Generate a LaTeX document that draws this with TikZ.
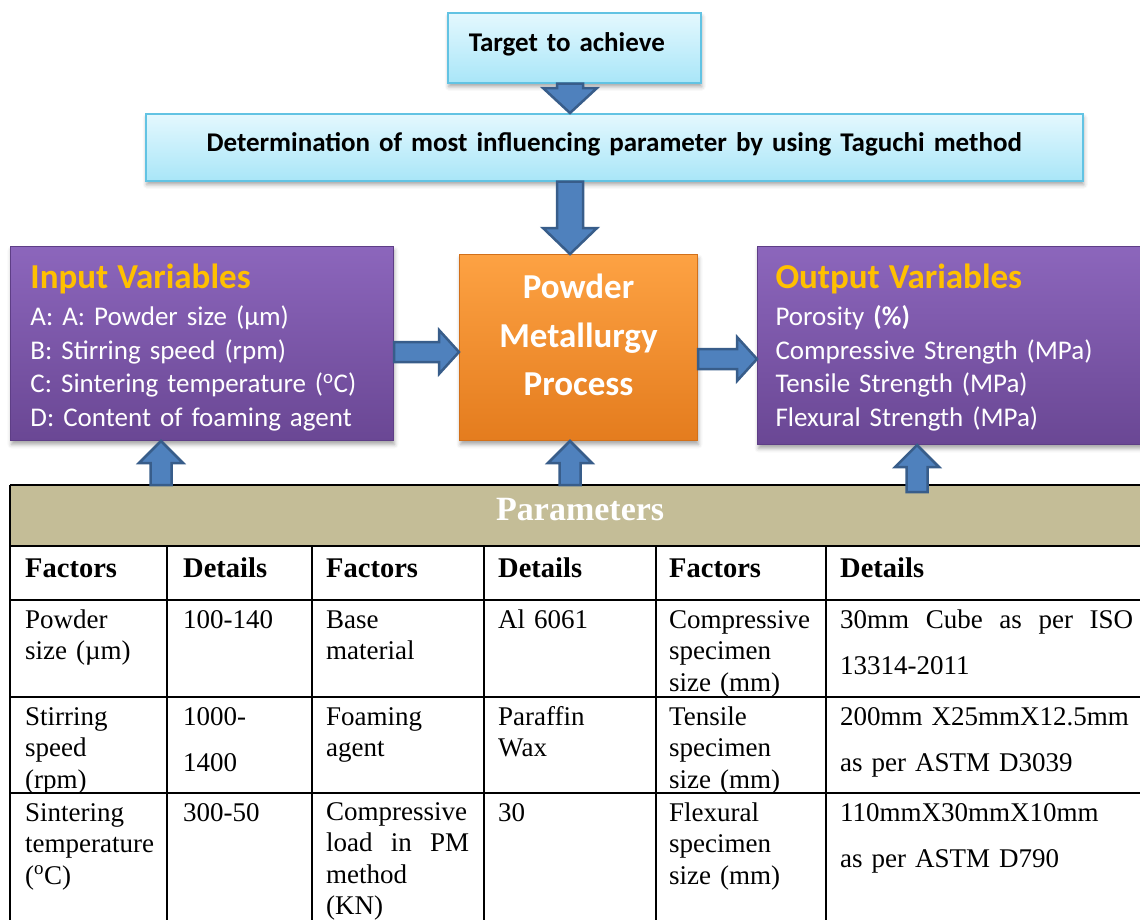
\documentclass[tikz,border=0pt]{standalone}
\usepackage{fontspec}
\setmainfont{Liberation Serif}
\newfontfamily\calibri{Carlito}
\usepackage{tikz}
\usetikzlibrary{calc,shadows.blur}

\definecolor{cytop}{HTML}{E4F8FE}
\definecolor{cybot}{HTML}{A9E6F8}
\definecolor{cybord}{HTML}{62C3E3}
\definecolor{putop}{HTML}{8C66BC}
\definecolor{pubot}{HTML}{6A4794}
\definecolor{pubord}{HTML}{5E3E86}
\definecolor{ortop}{HTML}{FDA243}
\definecolor{orbot}{HTML}{E47C1E}
\definecolor{orbord}{HTML}{D2701A}
\definecolor{arfill}{HTML}{4F81BD}
\definecolor{arbord}{HTML}{385D8A}
\definecolor{ttl}{HTML}{FFC000}
\definecolor{bandcol}{HTML}{C4BD97}

\begin{document}
\begin{tikzpicture}[x=1pt, y=1pt,
  boxshadow/.style={blur shadow={shadow xshift=1pt, shadow yshift=-4pt, shadow blur radius=4pt, shadow opacity=35}},
  cybox/.style={boxshadow, draw=cybord, line width=1.5pt, top color=cytop, bottom color=cybot, inner ysep=0pt, anchor=north west, font=\calibri\bfseries\fontsize{27}{33}\selectfont},
  pubox/.style={boxshadow, draw=pubord, line width=1pt, top color=putop, bottom color=pubot, text=white, inner ysep=0pt, anchor=north west, align=left, font=\calibri\fontsize{27}{33.5}\selectfont},
  orbox/.style={boxshadow, draw=orbord, line width=1pt, top color=ortop, bottom color=orbot, text=white, inner sep=0pt, anchor=north west, align=center, font=\calibri\bfseries\fontsize{35}{48.5}\selectfont},
  fat/.style args={#1/#2/#3}{draw=arbord, fill=arfill, line width=2.5pt, line join=miter,
    to path={let \p1=(\tikztostart), \p2=(\tikztotarget),
      \n1={veclen(\x2-\x1,\y2-\y1)}, \n2={atan2(\y2-\y1,\x2-\x1)} in
      [shift={(\p1)}, rotate=\n2] (0,#1) -- (\n1-#3,#1) -- (\n1-#3,#2) -- (\n1,0)
      -- (\n1-#3,-#2) -- (\n1-#3,-#1) -- (0,-#1) -- cycle}},
  band/.style={fill=bandcol, text=white, inner sep=0pt, anchor=north west, font=\bfseries\fontsize{34}{40}\selectfont},
  tline/.style={line width=2.5pt},
  cell/.style={anchor=base west, inner sep=0pt, text width=#1, align=left, font=\fontsize{27}{31.5}\selectfont},
  head/.style={anchor=base west, inner sep=0pt, font=\bfseries\fontsize{28.5}{31.5}\selectfont},
  wide/.style={font=\fontsize{27}{46.5}\selectfont}]

\useasboundingbox (0,0) rectangle (1140,-919);

% top of the flow
\node[cybox, minimum width=253pt, minimum height=70pt, inner xsep=21pt, text width=211pt, align=left,
  text height=39pt, text depth=31pt] (target) at (447,-12) {Target to achieve};
\node[cybox, minimum width=937pt, minimum height=67pt, inner xsep=0pt, text width=937pt, align=center,
  text height=38pt, text depth=29pt] (taguchi) at (145,-113)
  {Determination of most influencing parameter by using Taguchi method};

% the three boxes
\node[pubox, minimum width=383pt, minimum height=194pt, inner xsep=20pt, text width=343pt,
  text height=42pt, text depth=152pt] (input) at (10,-246)
  {{\bfseries\fontsize{35}{37}\selectfont\color{ttl}Input Variables}\\[3.5pt]
   A: A: Powder size (µm)\\
   B: Stirring speed (rpm)\\
   C: Sintering temperature (\textsuperscript{o}C)\\
   D: Content of foaming agent};
\node[orbox, minimum width=238pt, minimum height=186pt, text width=238pt,
  text height=44pt, text depth=142pt] (pm) at (459,-254)
  {Powder\\ Metallurgy\\ Process};
\node[pubox, minimum width=400pt, minimum height=198pt, inner xsep=18pt, text width=364pt,
  text height=42pt, text depth=156pt] (output) at (757,-246)
  {{\bfseries\fontsize{35}{37}\selectfont\color{ttl}Output Variables}\\[3.5pt]
   Porosity \textbf{(\%)}\\
   Compressive Strength (MPa)\\
   Tensile Strength (MPa)\\
   Flexural Strength (MPa)};

% table
\node[band, minimum width=1140pt, text width=1140pt, align=center, text height=35pt, text depth=26pt]
  (params) at (10,-485) {Parameters};
\foreach \y in {485,546,600,697,793}
  \draw[tline] (10,-\y) -- (1150,-\y);
\draw[tline] (10,-485) -- (10,-930);
\foreach \x in {167,312,484,656,826}
  \draw[tline] (\x,-546) -- (\x,-930);

\foreach \x/\t [count=\i] in {25/Factors,183/Details,326/Factors,498/Details,669/Factors,840/Details}
  \node[head] (h\i) at (\x,-577) {\t};

\node[cell=140pt] (r1c1) at (25,-628) {Powder\\ size (µm)};
\node[cell=125pt] (r1c2) at (183,-628) {100-140};
\node[cell=143pt] (r1c3) at (326,-628) {Base\\ material};
\node[cell=155pt] (r1c4) at (498,-628) {Al 6061};
\node[cell=150pt] (r1c5) at (669,-628) {Compressive\\ specimen\\ size (mm)};
\node[cell=293pt, align=justify, wide] (r1c6) at (840,-628) {30mm Cube as per ISO\linebreak 13314-2011};

\node[cell=140pt] (r2c1) at (25,-725) {Stirring\\ speed\\ (rpm)};
\node[cell=125pt, wide] (r2c2) at (183,-725) {1000-\\ 1400};
\node[cell=143pt] (r2c3) at (326,-725) {Foaming\\ agent};
\node[cell=155pt] (r2c4) at (498,-725) {Paraffin\\ Wax};
\node[cell=150pt] (r2c5) at (669,-725) {Tensile\\ specimen\\ size (mm)};
\node[cell=293pt, wide] (r2c6) at (840,-725) {200mm X25mmX12.5mm\\ as per ASTM D3039};

\node[cell=140pt] (r3c1) at (25,-821) {Sintering\\ temperature\\ (\textsuperscript{o}C)};
\node[cell=125pt] (r3c2) at (183,-821) {300-50};
\node[cell=143pt, align=justify] (r3c3) at (326,-820) {Compressive\\ load in PM\linebreak method\\ (KN)};
\node[cell=155pt] (r3c4) at (498,-821) {30};
\node[cell=150pt] (r3c5) at (669,-821) {Flexural\\ specimen\\ size (mm)};
\node[cell=293pt, wide] (r3c6) at (840,-821) {110mmX30mmX10mm\\ as per ASTM D790};

% block arrows
\coordinate (vx) at (570,0);
\coordinate (hy1) at (0,-352);
\coordinate (hy2) at (0,-359);
\coordinate (u1) at (161,0);
\coordinate (u2) at (570,0);
\coordinate (u3) at (917,0);
\draw[fat=13/27/25] (target.south -| vx) to (taguchi.north -| vx);
\draw[fat=13/27/26] (taguchi.south -| vx) to (pm.north -| vx);
\draw[fat=10/22/20] (input.east |- hy1) to (pm.west |- hy1);
\draw[fat=10/22/20] (pm.east |- hy2) to (output.west |- hy2);
\draw[fat=10.5/22/22] (params.north -| u1) to (input.south -| u1);
\draw[fat=10.5/22/22] (params.north -| u2) to (pm.south -| u2);
\draw[fat=10.5/22/22] ([yshift=-7pt]params.north -| u3) to (output.south -| u3);
\end{tikzpicture}
\end{document}
